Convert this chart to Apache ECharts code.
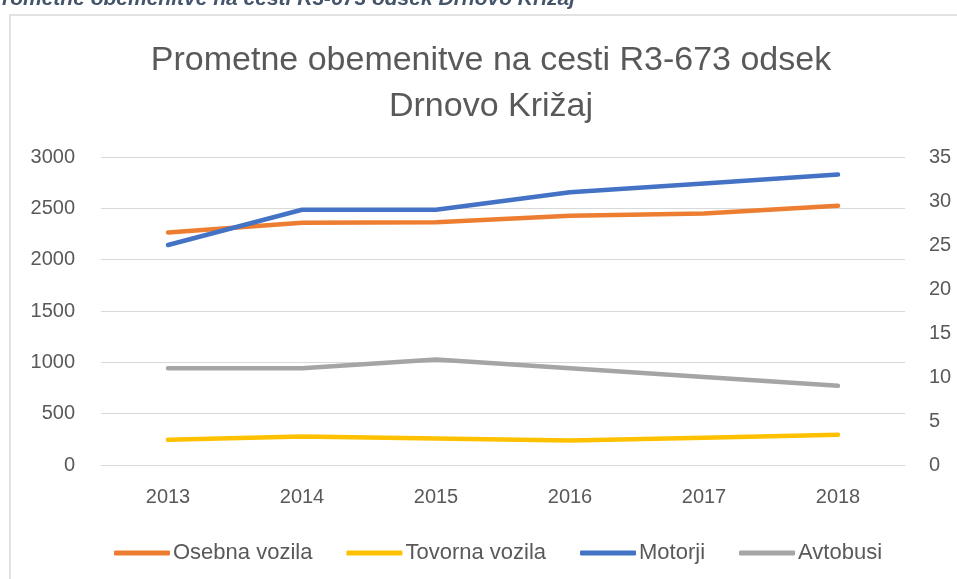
<!DOCTYPE html>
<html>
<head>
<meta charset="utf-8">
<script src="https://cdn.jsdelivr.net/npm/echarts@6/dist/echarts.min.js"></script>
<style>
html,body{margin:0;padding:0;background:#fff;}
#c{width:957px;height:579px;}
</style>
</head>
<body>
<div id="c"></div>
<script>
var categories = ['2013', '2014', '2015', '2016', '2017', '2018'];
var osebnaVozila = [2265, 2360, 2365, 2428, 2450, 2525];
var tovornaVozila = [245, 278, 258, 238, 265, 295];
var motorji = [25, 29, 29, 31, 32, 33];
var avtobusi = [11, 11, 12, 11, 10, 9];
var seriesNames = ['Osebna vozila', 'Tovorna vozila', 'Motorji', 'Avtobusi'];
var leftTicks = {min: 0, max: 3000, interval: 500};
var rightTicks = {min: 0, max: 35, interval: 5};

var FONT = '"Liberation Sans", Arial, sans-serif';
var TXT = '#595959';
var chart = echarts.init(document.getElementById('c'));

function lineSeries(name, data, color, axis) {
  return {
    name: name, type: 'line', data: data, yAxisIndex: axis,
    symbol: 'none', smooth: false,
    lineStyle: {color: color, width: 4.5, cap: 'round', join: 'round'},
    itemStyle: {color: color},
    emphasis: {disabled: true}
  };
}

chart.setOption({
  animation: false,
  backgroundColor: '#fff',
  title: {
    text: 'Prometne obemenitve na cesti R3-673 odsek\nDrnovo Križaj',
    left: 486, textAlign: 'center', top: 33,
    textStyle: {fontFamily: FONT, fontSize: 34, fontWeight: 'normal', color: TXT, lineHeight: 46}
  },
  graphic: [
    {type: 'rect', shape: {x: 10, y: 15, width: 1000, height: 700},
     style: {fill: 'none', stroke: '#d9d9d9', lineWidth: 1.5}, silent: true},
    {type: 'text', x: 575, y: 10,
     style: {text: 'Prometne obemenitve na cesti R3-673 odsek Drnovo Križaj',
             fontFamily: FONT, fontSize: 21, fontWeight: 'bold', fontStyle: 'italic',
             fill: '#44546A', align: 'right', verticalAlign: 'bottom'}, silent: true}
  ],
  legend: {
    data: seriesNames,
    left: 109, top: 537,
    icon: 'roundRect', itemWidth: 56, itemHeight: 5, itemGap: 34,
    textStyle: {fontFamily: FONT, fontSize: 22, color: TXT, padding: [0, 0, 0, -2]}
  },
  grid: {left: 101, right: 52, top: 157, bottom: 114, containLabel: false},
  xAxis: {
    type: 'category', data: categories, boundaryGap: true,
    axisLine: {show: true, lineStyle: {color: '#d9d9d9', width: 1}},
    axisTick: {show: false},
    axisLabel: {fontFamily: FONT, fontSize: 20, color: TXT, margin: 22}
  },
  yAxis: [
    {type: 'value', min: leftTicks.min, max: leftTicks.max, interval: leftTicks.interval,
     axisLine: {show: false}, axisTick: {show: false},
     axisLabel: {fontFamily: FONT, fontSize: 20, color: TXT, margin: 26,
                 formatter: function (v) { return String(v); }},
     splitLine: {lineStyle: {color: '#d9d9d9', width: 1}}},
    {type: 'value', min: rightTicks.min, max: rightTicks.max, interval: rightTicks.interval,
     axisLine: {show: false}, axisTick: {show: false},
     axisLabel: {fontFamily: FONT, fontSize: 20, color: TXT, margin: 24},
     splitLine: {show: false}}
  ],
  series: [
    lineSeries(seriesNames[0], osebnaVozila, '#ED7D31', 0),
    lineSeries(seriesNames[1], tovornaVozila, '#FFC000', 0),
    lineSeries(seriesNames[2], motorji, '#4472C4', 1),
    lineSeries(seriesNames[3], avtobusi, '#A5A5A5', 1)
  ]
});
</script>
</body>
</html>
